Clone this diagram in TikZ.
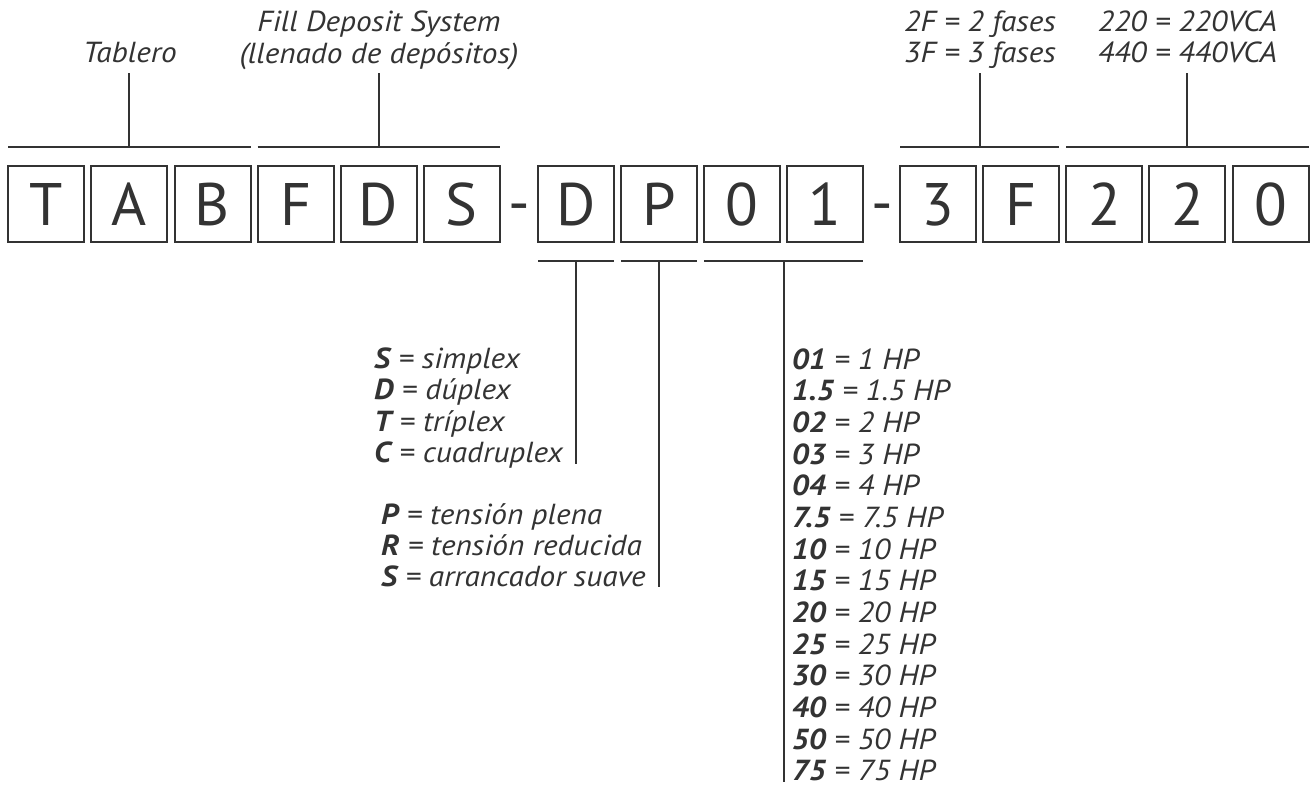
\documentclass[tikz,border=0pt]{standalone}
\usepackage{fontspec}
\setmainfont{PT Sans}
\newfontfamily\lblfont[FakeStretch=1.08]{PT Sans}
\usetikzlibrary{calc}
\definecolor{ink}{HTML}{333333}
\begin{document}
\begin{tikzpicture}[x=1pt,y=-1pt,
  box/.style={draw=ink, line width=2pt, minimum width=76pt, minimum height=76pt,
    inner sep=0pt, outer sep=0pt, text height=42pt, text depth=0pt,
    font=\fontsize{60}{60}\selectfont, text=ink},
  dashsign/.style={inner sep=0pt, font=\fontsize{60}{60}\selectfont, text=ink},
  lbl/.style={font=\lblfont\fontsize{29}{31}\selectfont\itshape, text=ink, inner sep=0pt},
  ln/.style={draw=ink, line width=2pt},
]
\useasboundingbox (0,0) rectangle (1312,786);

% boxes
\foreach \t [count=\i from 0] in {T,A,B,F,D,S}
  \node[box] (ga\i) at (46.4+83.05*\i, 204.5) {\t};
\foreach \t [count=\i from 0] in {D,P,0,1}
  \node[box] (gb\i) at (576+83.05*\i, 204.5) {\t};
\foreach \t [count=\i from 0] in {3,F,2,2,0}
  \node[box] (gc\i) at (938.3+83.05*\i, 204.5) {\t};

\node[dashsign, anchor=base] (dash1) at (519, 224) {-};
\node[dashsign, anchor=base] (dash2) at (882, 224) {-};

% top brackets
\path ([yshift=19.5pt]ga0.north west) coordinate (t1l) ([yshift=19.5pt]ga2.north east) coordinate (t1r);
\path ([yshift=19.5pt]ga3.north west) coordinate (t2l) ([yshift=19.5pt]ga5.north east) coordinate (t2r);
\path ([yshift=19.5pt]gc0.north west) coordinate (t3l) ([yshift=19.5pt]gc1.north east) coordinate (t3r);
\path ([yshift=19.5pt]gc2.north west) coordinate (t4l) ([yshift=19.5pt]gc4.north east) coordinate (t4r);
\foreach \k in {1,2,3,4} {
  \draw[ln] (t\k l) -- (t\k r);
  \draw[ln] ($(t\k l)!0.5!(t\k r)$) -- ++(0,-74.3);
}

% bottom brackets
\path ([yshift=-19pt]gb0.south west) coordinate (b1l) ([yshift=-19pt]gb0.south east) coordinate (b1r);
\path ([yshift=-19pt]gb1.south west) coordinate (b2l) ([yshift=-19pt]gb1.south east) coordinate (b2r);
\path ([yshift=-19pt]gb2.south west) coordinate (b3l) ([yshift=-19pt]gb3.south east) coordinate (b3r);
\draw[ln] (b1l) -- (b1r);
\draw[ln] (b2l) -- (b2r);
\draw[ln] (b3l) -- (b3r);
\draw[ln] ($(b1l)!0.5!(b1r)$) -- ++(0,202.5);
\draw[ln] ($(b2l)!0.5!(b2r)$) -- ++(0,325.5);
\draw[ln] ($(b3l)!0.5!(b3r)$) -- ++(0,520.5);

% top labels
\node[lbl, anchor=base] (tab) at (130, 63) {Tablero};
\node[lbl, anchor=base] (fds1) at (379, 32) {Fill Deposit System};
\node[lbl, anchor=base] (fds2) at (379, 63.3) {(llenado de depósitos)};
\node[lbl, anchor=base] (fa1) at (980, 31.7) {2F = 2 fases};
\node[lbl, anchor=base] (fa2) at (980, 62.7) {3F = 3 fases};
\node[lbl, anchor=base] (vo1) at (1187.5, 31.7) {220 = 220VCA};
\node[lbl, anchor=base] (vo2) at (1187.5, 62.7) {440 = 440VCA};

% D list
\foreach \a/\b [count=\i from 0] in {S/simplex, D/dúplex, T/tríplex, C/cuadruplex}
  \node[lbl, anchor=base west] (dl\i) at (374, 368.3+31.4*\i) {\textbf{\a} = \b};
% P list
\foreach \a/\b [count=\i from 0] in {P/tensión plena, R/tensión reducida, S/arrancador suave}
  \node[lbl, anchor=base west] (pl\i) at (381, 524+31.3*\i) {\textbf{\a} = \b};
% HP list
\foreach \a/\b [count=\i from 0] in {01/1, 1.5/1.5, 02/2, 03/3, 04/4, 7.5/7.5, 10/10, 15/15, 20/20, 25/25, 30/30, 40/40, 50/50, 75/75}
  \node[lbl, anchor=base west, text depth=0pt] (hp\i) at (791.7, 369.3+31.65*\i) {\textbf{\a} = \b{} HP};
\end{tikzpicture}
\end{document}
